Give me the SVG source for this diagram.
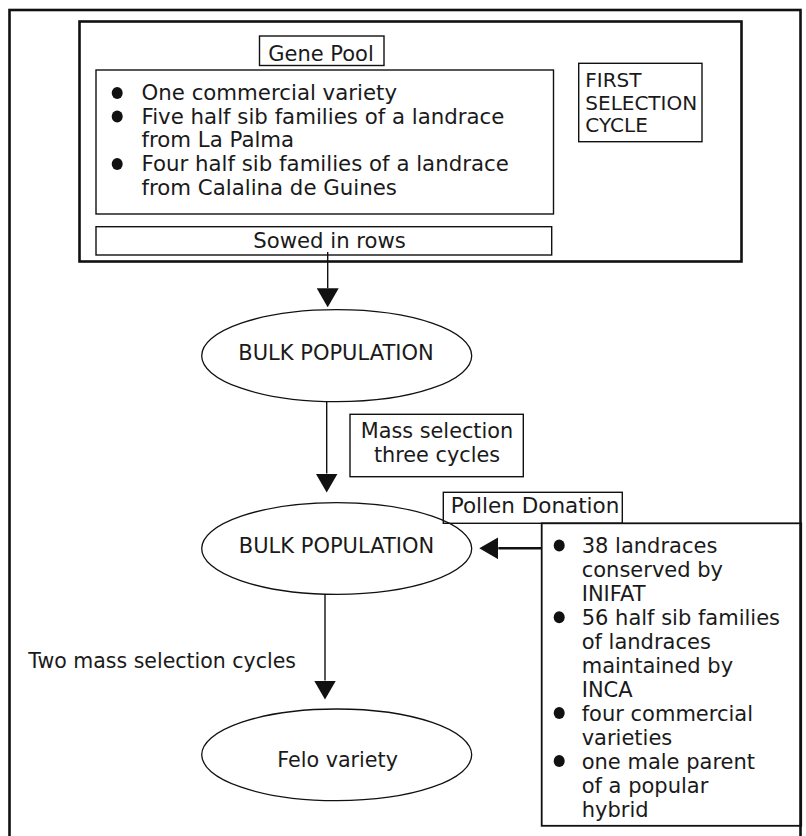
<svg xmlns="http://www.w3.org/2000/svg" width="806" height="836" viewBox="0 0 806 836">
<style>
  text { font-family: "DejaVu Sans", "Liberation Sans", sans-serif; font-size: 21px; fill: #1a1a1a; }
  .box { fill: none; stroke: #111; stroke-width: 1.4; }
  .thick { fill: none; stroke: #111; stroke-width: 2.6; }
  .ell { fill: none; stroke: #111; stroke-width: 1.3; }
  .bul { fill: #111; }
  .conn { fill: none; stroke: #111; stroke-width: 1.4; }
  .mid { text-anchor: middle; }
</style>
<defs>
  <marker id="ah" viewBox="0 0 19 22" refX="0" refY="11" markerWidth="19" markerHeight="22" orient="auto" markerUnits="userSpaceOnUse">
    <path d="M0,0 L19,11 L0,22 Z" fill="#111"/>
  </marker>
</defs>
<rect width="806" height="836" fill="#fff"/>

<g id="frame">
  <rect class="thick" x="9.5" y="10" width="791" height="840"/>
</g>

<g id="first-cycle">
  <rect class="thick" x="79.5" y="21.5" width="662" height="240"/>
</g>

<g id="gene-pool">
  <rect class="box" x="259.5" y="36" width="124.5" height="29.5"/>
  <text x="321" y="60.5" class="mid">Gene Pool</text>
</g>

<g id="gene-pool-list">
  <rect class="box" x="96" y="70" width="457.5" height="144"/>
  <ellipse class="bul" cx="117.2" cy="93" rx="5.5" ry="6"/>
  <ellipse class="bul" cx="117.2" cy="116.5" rx="5.5" ry="6"/>
  <ellipse class="bul" cx="117.2" cy="164" rx="5.5" ry="6"/>
  <text x="141.5" y="100" style="font-size:21.3px">One commercial variety</text>
  <text x="141.5" y="123.5" style="font-size:21.3px">Five half sib families of a landrace</text>
  <text x="141.5" y="147.3" style="font-size:21.3px">from La Palma</text>
  <text x="141.5" y="171" style="font-size:21.3px">Four half sib families of a landrace</text>
  <text x="141.5" y="195" style="font-size:21.3px">from Calalina de Guines</text>
</g>

<g id="first-selection-cycle">
  <rect class="box" x="578.7" y="63.3" width="123.3" height="78.4"/>
  <text x="585.3" y="87.3" style="font-size:20px">FIRST</text>
  <text x="585.3" y="109.8" style="font-size:20px">SELECTION</text>
  <text x="585.3" y="132" style="font-size:20px">CYCLE</text>
</g>

<g id="sowed">
  <rect class="box" x="96" y="226.7" width="455.7" height="28.3"/>
  <text x="253.3" y="248" style="font-size:21.2px">Sowed in rows</text>
</g>

<g id="bulk1">
  <ellipse class="ell" cx="336.7" cy="355.7" rx="135" ry="46"/>
  <text x="336" y="360" class="mid">BULK POPULATION</text>
</g>

<g id="mass-selection">
  <rect class="box" x="350" y="414.3" width="173.3" height="62.4"/>
  <text x="437" y="438.3" class="mid" style="font-size:20.8px">Mass selection</text>
  <text x="437" y="461.7" class="mid" style="font-size:20.8px">three cycles</text>
</g>

<g id="bulk2">
  <ellipse class="ell" cx="336.7" cy="548.5" rx="135" ry="45.8"/>
  <text x="336.5" y="552.7" class="mid">BULK POPULATION</text>
</g>

<g id="pollen-donation">
  <rect class="box" x="443.3" y="492.3" width="179" height="31"/>
  <text x="450.7" y="513.3" style="font-size:21.5px">Pollen Donation</text>
</g>

<g id="pollen-list">
  <rect class="box" x="541.7" y="523.3" width="259.5" height="302.5" style="stroke-width:1.8"/>
  <ellipse class="bul" cx="559.2" cy="545.5" rx="5.5" ry="6"/>
  <ellipse class="bul" cx="559.2" cy="617.3" rx="5.5" ry="6"/>
  <ellipse class="bul" cx="559.2" cy="713" rx="5.5" ry="6"/>
  <ellipse class="bul" cx="559.2" cy="761" rx="5.5" ry="6"/>
  <text x="581.7" y="553.3">38 landraces</text>
  <text x="581.7" y="577.2">conserved by</text>
  <text x="581.7" y="601.2">INIFAT</text>
  <text x="581.7" y="625.1">56 half sib families</text>
  <text x="581.7" y="649.1">of landraces</text>
  <text x="581.7" y="673">maintained by</text>
  <text x="581.7" y="697">INCA</text>
  <text x="581.7" y="720.9">four commercial</text>
  <text x="581.7" y="744.9">varieties</text>
  <text x="581.7" y="768.8">one male parent</text>
  <text x="581.7" y="792.8">of a popular</text>
  <text x="581.7" y="816.7">hybrid</text>
</g>

<g id="felo">
  <ellipse class="ell" cx="336.7" cy="754.8" rx="135" ry="45.8"/>
  <text x="337.6" y="766.7" class="mid" style="font-size:20.7px">Felo variety</text>
</g>

<g id="two-mass-label">
  <text x="28.3" y="668.3" style="font-size:20.5px">Two mass selection cycles</text>
</g>

<g id="connectors">
  <line class="conn" x1="327.7" y1="252" x2="327.7" y2="288.3" marker-end="url(#ah)"/>
  <line class="conn" x1="326.7" y1="401.7" x2="326.7" y2="473.5" marker-end="url(#ah)"/>
  <line class="conn" x1="325" y1="594.3" x2="325" y2="680.5" marker-end="url(#ah)"/>
  <line class="conn" x1="541.7" y1="548.3" x2="498.3" y2="548.3" style="stroke-width:2.6" marker-end="url(#ah)"/>
</g>
</svg>
